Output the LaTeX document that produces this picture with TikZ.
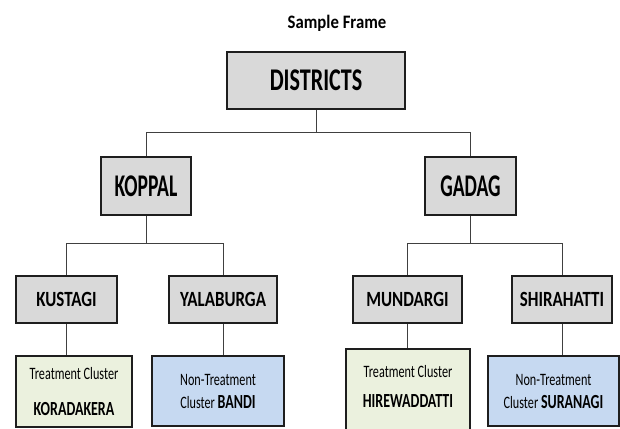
\documentclass[tikz,border=0pt]{standalone}
\usepackage{fontspec}
\setmainfont{Carlito}
\newfontfamily\titlefont[FakeStretch=0.88]{Carlito}
\newfontfamily\topfont[FakeStretch=0.70]{Carlito}
\newfontfamily\districtfont[FakeStretch=0.62]{Carlito}
\newfontfamily\talukfont[FakeStretch=0.78]{Carlito}
\newfontfamily\clusterfont[FakeStretch=0.70]{Carlito}
\definecolor{boxgray}{HTML}{D9D9D9}
\definecolor{treatgreen}{HTML}{EBF1DE}
\definecolor{controlblue}{HTML}{C6D9F1}
\definecolor{boxline}{HTML}{1E1E1E}
\definecolor{linkline}{HTML}{404040}
\begin{document}
\begin{tikzpicture}[x=1pt,y=-1pt,
  box/.style={rectangle,draw=boxline,line width=1.5pt,inner sep=0pt},
  top box/.style={box,fill=boxgray,minimum width=178pt,minimum height=57pt,font=\topfont\fontsize{31.6}{36}\selectfont\bfseries},
  district box/.style={box,fill=boxgray,minimum height=58pt,font=\districtfont\fontsize{31.6}{36}\selectfont\bfseries},
  taluk box/.style={box,fill=boxgray,minimum height=47pt,font=\talukfont\fontsize{21.7}{26}\selectfont\bfseries},
  cluster box/.style={box,align=center,minimum height=70pt,font=\clusterfont\fontsize{17.4}{23}\selectfont},
  link/.style={draw=linkline,line width=1pt}]
\path[use as bounding box,clip] (0,0) rectangle (620,428);
\node[font=\titlefont\fontsize{19}{22}\selectfont\bfseries,anchor=base] (title) at (337,28.5) {Sample Frame};
\node[top box] (districts) at (316,80.5) {DISTRICTS};
\node[district box,minimum width=90pt] (koppal) at (146,186) {KOPPAL};
\node[district box,minimum width=91pt] (gadag) at (470.5,186) {GADAG};
\node[taluk box,minimum width=101pt] (kustagi) at (66.5,299.5) {KUSTAGI};
\node[taluk box,minimum width=108pt] (yalaburga) at (223,299.5) {YALABURGA};
\node[taluk box,minimum width=109pt] (mundargi) at (407.5,299.5) {MUNDARGI};
\node[taluk box,minimum width=100pt] (shirahatti) at (562,299.5) {SHIRAHATTI};
\node[cluster box,fill=treatgreen,minimum width=116pt,minimum height=71pt] (koradakera) at (74,391.5)
  {Treatment Cluster\\[13pt]{\fontsize{20}{23}\selectfont\bfseries KORADAKERA}};
\node[cluster box,fill=controlblue,minimum width=132pt] (bandi) at (218,391)
  {Non-Treatment\\Cluster {\fontsize{20}{23}\selectfont\bfseries BANDI}};
\node[cluster box,fill=treatgreen,minimum width=124pt,minimum height=91pt,text depth=16pt] (hirewaddatti) at (408,394.5)
  {Treatment Cluster\\[7pt]{\fontsize{20}{23}\selectfont\bfseries HIREWADDATTI}};
\node[cluster box,fill=controlblue,minimum width=131pt] (suranagi) at (553.5,391)
  {Non-Treatment\\Cluster {\fontsize{20}{23}\selectfont\bfseries SURANAGI}};
% tree links
\draw[link] (districts.south) -- ++(0,23) -| (koppal.north);
\draw[link] (districts.south) -- ++(0,23) -| (gadag.north);
\draw[link] (koppal.south) -- ++(0,28) -| (kustagi.north);
\draw[link] (koppal.south) -- ++(0,28) -| (yalaburga.north);
\draw[link] (gadag.south) -- ++(0,28) -| (mundargi.north);
\draw[link] (gadag.south) -- ++(0,28) -| (shirahatti.north);
\draw[link] (kustagi.south) -- (kustagi.south |- koradakera.north);
\draw[link] (yalaburga.south) -- (yalaburga.south |- bandi.north);
\draw[link] (mundargi.south) -- (mundargi.south |- hirewaddatti.north);
\draw[link] (shirahatti.south) -- (shirahatti.south |- suranagi.north);
\end{tikzpicture}
\end{document}
